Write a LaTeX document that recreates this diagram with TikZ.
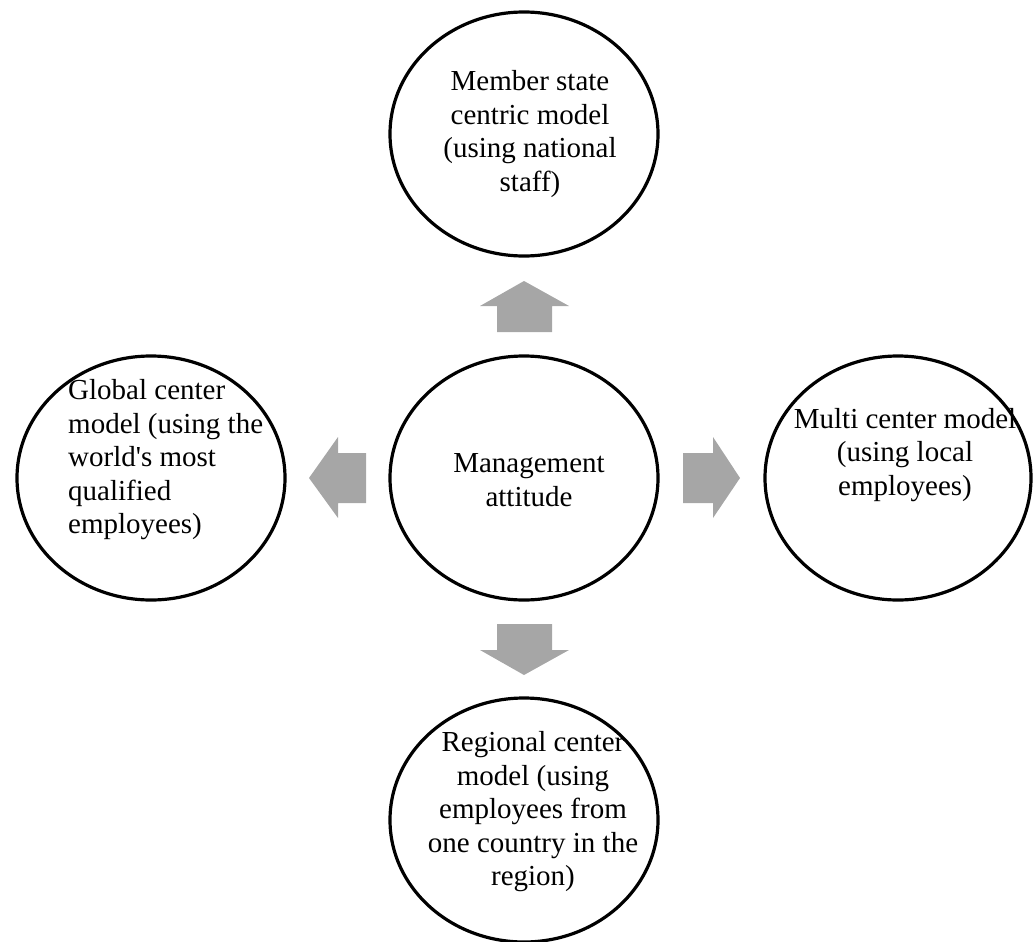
\documentclass[tikz,border=0pt]{standalone}
\usepackage{fontspec}
\setmainfont{Liberation Serif}
\usetikzlibrary{shapes.geometric}
\definecolor{arrowgray}{HTML}{A6A6A6}
\begin{document}
\begin{tikzpicture}[x=1pt,y=-1pt,
  model/.style={draw=black, line width=3.2pt, ellipse, minimum width=268pt,
    minimum height=244pt, inner sep=0pt},
  caption/.style={font=\fontsize{29}{33.5}\selectfont, inner sep=0pt},
  blockarrow/.style={fill=arrowgray, draw=none}]
\useasboundingbox (0,0) rectangle (1033,942);

% the five models
\node[model] (mid)    at (524,478) {};
\node[model] (top)    at (524,134) {};
\node[model] (left)   at (151,478) {};
\node[model, minimum width=266pt] (right) at (898,478) {};
\node[model] (bottom) at (524,820) {};

% their texts
\node[caption, align=center] (midtext) at (529,480) {Management\\attitude};
\node[caption, align=center] (toptext) at (530,134)
  {Member state\\centric model\\(using national\\staff)};
\node[caption, align=left, anchor=west] (lefttext) at (68,460)
  {Global center\\model (using the\\world\textquotesingle s most\\qualified\\employees)};
\node[caption, align=center] (righttext) at (905,455)
  {Multi center model\\(using local\\employees)};
\node[caption, align=center] (bottomtext) at (533,812)
  {Regional center\\model (using\\employees from\\one country in the\\region)};

% block arrows pointing outwards from the centre
\fill[blockarrow] (497,332) -- (497,306) -- (480,306) -- (524,281)
  -- (569,306) -- (552,306) -- (552,332) -- cycle;
\fill[blockarrow] (497,624) -- (497,650) -- (480,650) -- (524,675)
  -- (569,650) -- (552,650) -- (552,624) -- cycle;
\fill[blockarrow] (366,453) -- (338,453) -- (338,437) -- (309,478)
  -- (338,518) -- (338,503) -- (366,503) -- cycle;
\fill[blockarrow] (683,453) -- (713,453) -- (713,437) -- (740,478)
  -- (713,518) -- (713,503) -- (683,503) -- cycle;
\end{tikzpicture}
\end{document}
